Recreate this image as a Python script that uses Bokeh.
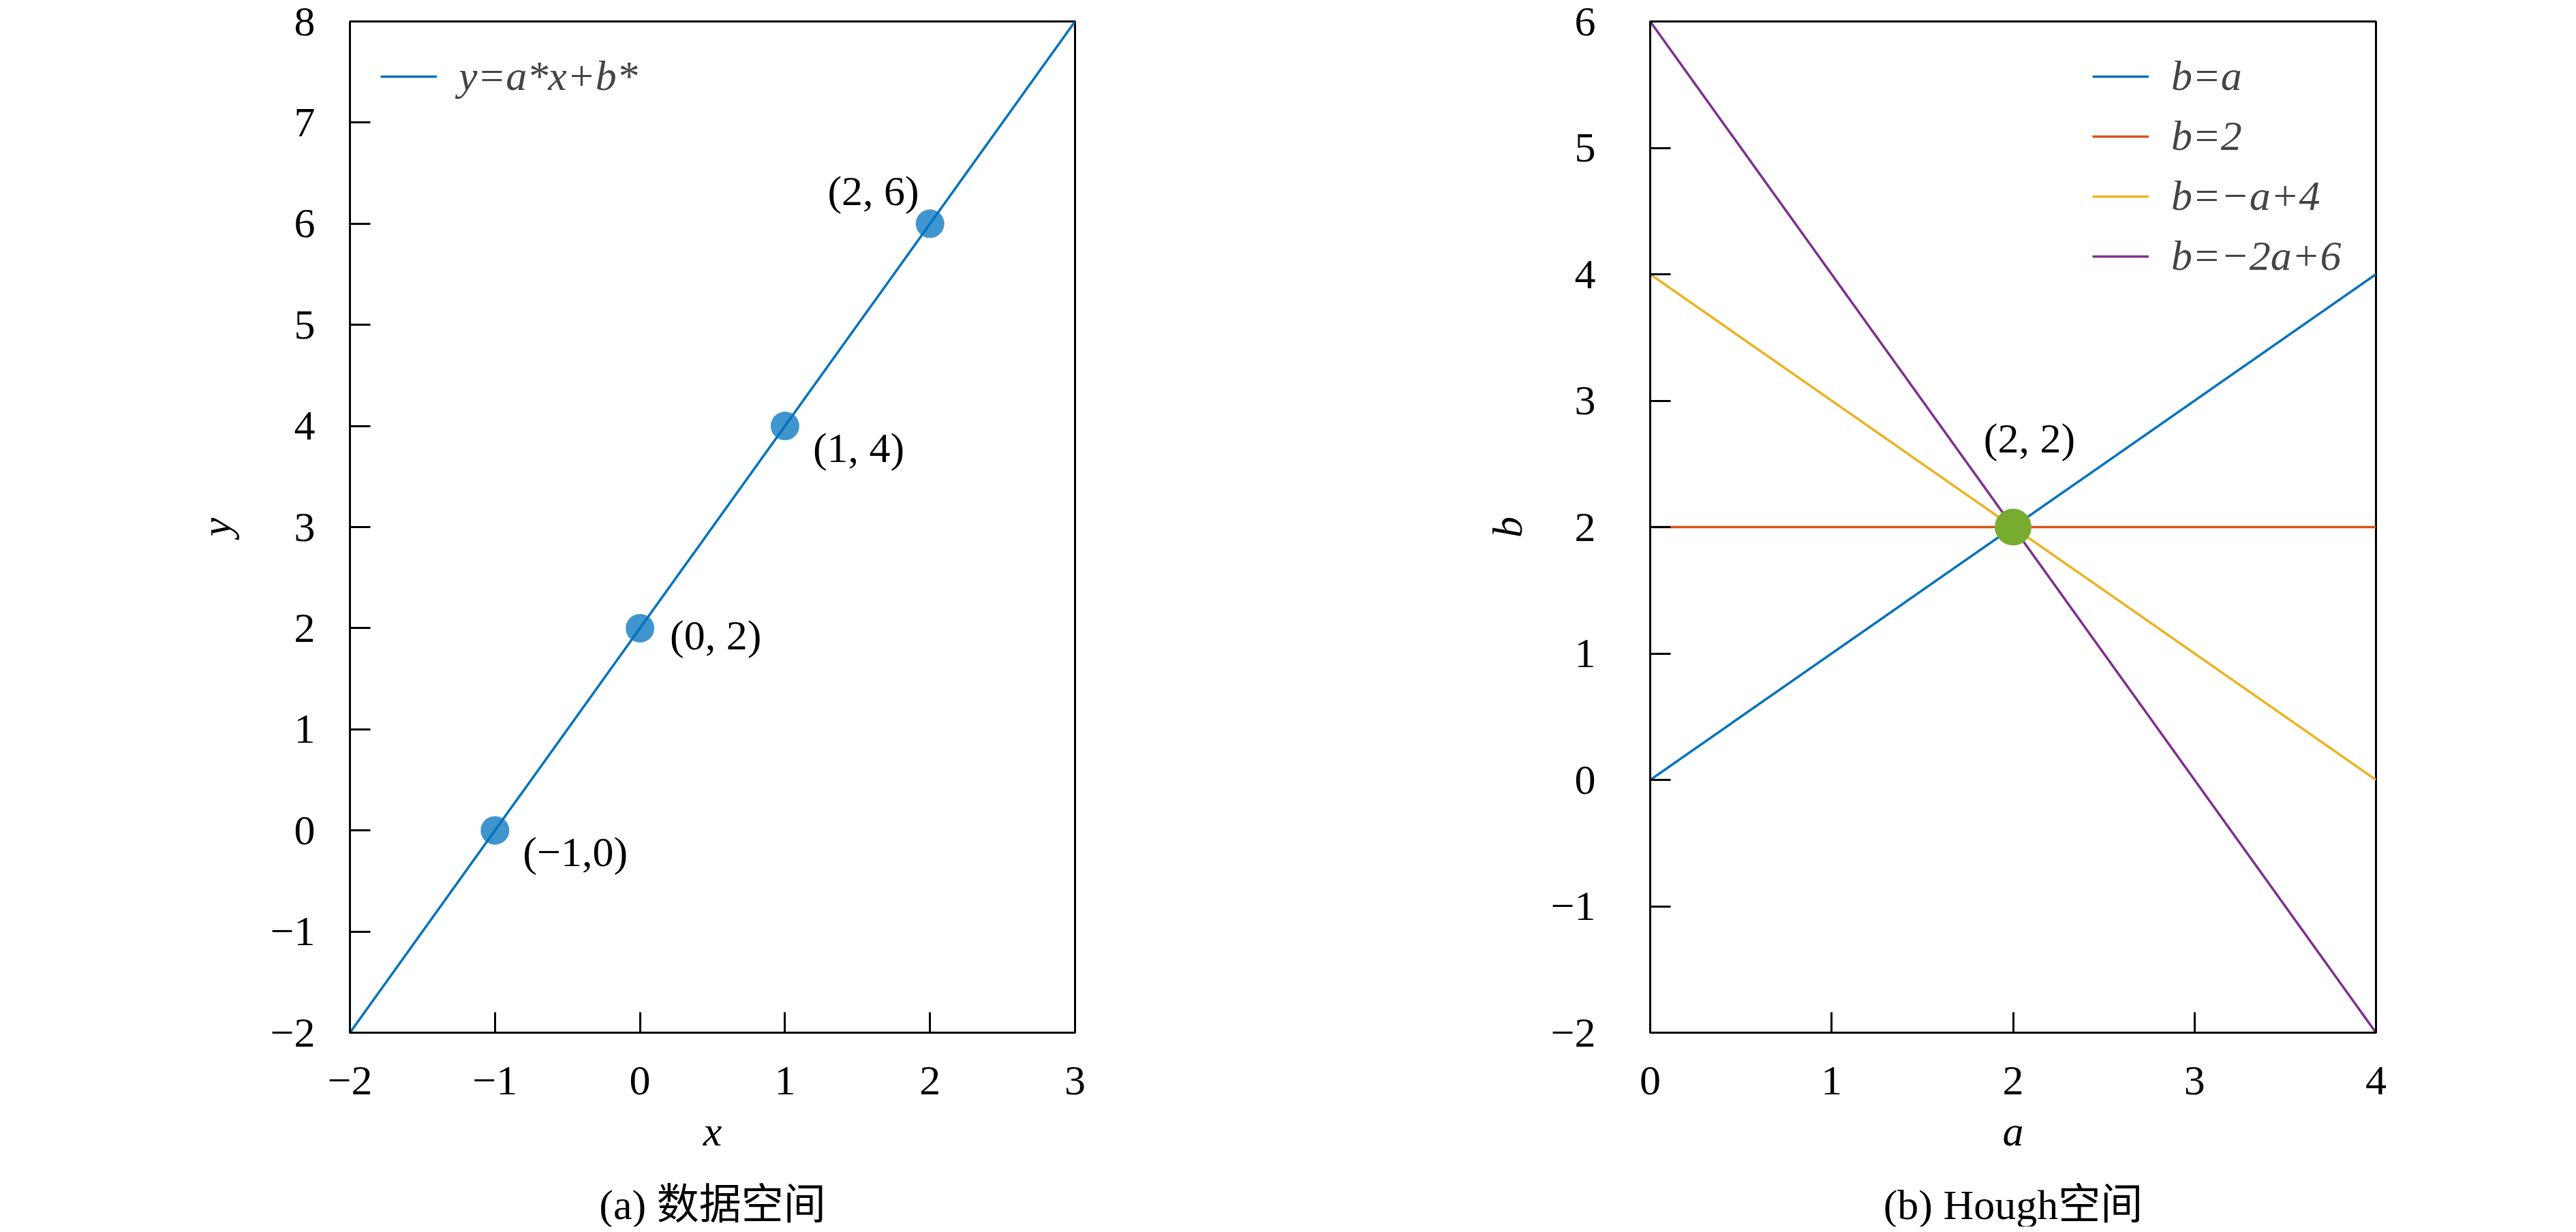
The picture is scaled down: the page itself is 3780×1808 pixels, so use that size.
from bokeh.plotting import figure
from bokeh.models import Legend, LegendItem, FixedTicker, ColumnDataSource, Range1d
from bokeh.layouts import row, column
from bokeh.embed import file_html
from bokeh.resources import INLINE
from bokeh.core.properties import value

# ---------------- data ----------------
# (a) data space
line_x = [-2, 3]
line_y = [-2, 8]
line_name = "y=a*x+b*"
pts_x = [-1, 0, 1, 2]
pts_y = [0, 2, 4, 6]
pts_labels = ["(−1,0)", "(0, 2)", "(1, 4)", "(2, 6)"]
left_xticks = [-2, -1, 0, 1, 2, 3]
left_xlabels = ["−2", "−1", "0", "1", "2", "3"]
left_yticks = [-2, -1, 0, 1, 2, 3, 4, 5, 6, 7, 8]
left_ylabels = ["−2", "−1", "0", "1", "2", "3", "4", "5", "6", "7", "8"]

# (b) Hough space
hough_a = [0, 4]
hough_b1 = [0, 4]      # b = a
hough_b2 = [2, 2]      # b = 2
hough_b3 = [4, 0]      # b = -a + 4
hough_b4 = [6, -2]     # b = -2a + 6
hough_names = ["b=a", "b=2", "b=−a+4", "b=−2a+6"]
cross_a = [2]
cross_b = [2]
cross_label = ["(2, 2)"]
right_xticks = [0, 1, 2, 3, 4]
right_xlabels = ["0", "1", "2", "3", "4"]
right_yticks = [-2, -1, 0, 1, 2, 3, 4, 5, 6]
right_ylabels = ["−2", "−1", "0", "1", "2", "3", "4", "5", "6"]

captions = ["(a) 数据空间", "(b) Hough空间"]

# ---------------- style / layout ----------------
FONT = "Liberation Serif, Noto Sans CJK SC"
FS = "62px"
COLORS = ["#0072BD", "#D95319", "#EDB120", "#7E2F8E"]
W1, W2 = 1908, 1864
FRAME_W1, FRAME_W2, FRAME_H = 1064, 1065, 1484
LEFT, TOP, BOTTOM = 513, 31, 200
CAP_H = 1800 - (TOP + FRAME_H + BOTTOM)


def style_fig(p, xticks, xlabels, yticks, ylabels, ystandoff, ylabel_standoff):
    p.grid.visible = False
    p.outline_line_color = "black"
    p.outline_line_width = 3
    p.outline_line_alpha = 1
    for ax in (p.xaxis[0], p.yaxis[0]):
        ax.axis_line_width = 3
        ax.major_tick_in = 30
        ax.major_tick_out = 0
        ax.major_tick_line_width = 3
        ax.minor_tick_in = 0
        ax.minor_tick_out = 0
        ax.major_label_text_font = FONT
        ax.major_label_text_font_size = FS
        ax.major_label_text_color = "black"
        ax.axis_label_text_font = FONT
        ax.axis_label_text_font_size = FS
        ax.axis_label_text_font_style = "italic"
        ax.axis_label_text_color = "black"
    p.xaxis[0].ticker = FixedTicker(ticks=xticks)
    p.xaxis[0].major_label_overrides = dict(zip(xticks, xlabels))
    p.yaxis[0].ticker = FixedTicker(ticks=yticks)
    p.yaxis[0].major_label_overrides = dict(zip(yticks, ylabels))
    p.xaxis[0].major_label_standoff = 50
    p.xaxis[0].axis_label_standoff = 17
    p.yaxis[0].major_label_standoff = ystandoff
    p.yaxis[0].axis_label_standoff = ylabel_standoff


def caption_fig(width, frame_w, text):
    c = figure(width=width, height=CAP_H, output_backend="svg", toolbar_location=None,
               x_range=Range1d(0, width), y_range=Range1d(0, CAP_H),
               x_axis_type=None, y_axis_type=None,
               min_border_left=0, min_border_right=0, min_border_top=0, min_border_bottom=0)
    c.outline_line_color = None
    c.grid.visible = False
    c.text(x=[LEFT + frame_w / 2], y=[CAP_H - (1767 - (TOP + FRAME_H + BOTTOM))], text=[text],
           text_font=value(FONT), text_font_size=FS, text_align="center",
           text_baseline="middle", text_color="black")
    return c


# ---------------- (a) ----------------
p1 = figure(frame_width=FRAME_W1, frame_height=FRAME_H, output_backend="svg", toolbar_location=None,
            x_range=Range1d(-2, 3), y_range=Range1d(-2, 8),
            min_border_left=LEFT, min_border_right=W1 - LEFT - FRAME_W1,
            min_border_top=TOP, min_border_bottom=BOTTOM,
            x_axis_label="x", y_axis_label="y")
style_fig(p1, left_xticks, left_xlabels, left_yticks, left_ylabels, 51, 43)

r_line = p1.line(line_x, line_y, line_color=COLORS[0], line_width=3.5)
p1.scatter(pts_x, pts_y, size=42, fill_color=COLORS[0], fill_alpha=0.75, line_color=None)

src_l = ColumnDataSource(dict(x=pts_x[:3], y=pts_y[:3], t=pts_labels[:3],
                              xo=[41, 44, 41], yo=[31, 10, 32]))
p1.text(x="x", y="y", text="t", x_offset="xo", y_offset="yo", source=src_l,
        text_font=value(FONT), text_font_size=FS, text_align="left",
        text_baseline="middle", text_color="black")
src_r = ColumnDataSource(dict(x=pts_x[3:], y=pts_y[3:], t=pts_labels[3:], xo=[-16], yo=[-48]))
p1.text(x="x", y="y", text="t", x_offset="xo", y_offset="yo", source=src_r,
        text_font=value(FONT), text_font_size=FS, text_align="right",
        text_baseline="middle", text_color="black")

leg1 = Legend(items=[LegendItem(label=line_name, renderers=[r_line])],
              location="top_left", margin=45, padding=10, spacing=17,
              glyph_width=83, glyph_height=20, label_standoff=32,
              label_text_font=FONT, label_text_font_size=FS, label_text_font_style="italic",
              border_line_color=None, background_fill_alpha=0)
p1.add_layout(leg1)

# ---------------- (b) ----------------
p2 = figure(frame_width=FRAME_W2, frame_height=FRAME_H, output_backend="svg", toolbar_location=None,
            x_range=Range1d(0, 4), y_range=Range1d(-2, 6),
            min_border_left=LEFT, min_border_right=W2 - LEFT - FRAME_W2,
            min_border_top=TOP, min_border_bottom=BOTTOM,
            x_axis_label="a", y_axis_label="b")
style_fig(p2, right_xticks, right_xlabels, right_yticks, right_ylabels, 80, 27)

renderers = []
for ys, c in zip([hough_b1, hough_b2, hough_b3, hough_b4], COLORS):
    renderers.append(p2.line(hough_a, ys, line_color=c, line_width=3.5))
p2.scatter(cross_a, cross_b, size=54, fill_color="#77AC30", line_color=None)
p2.text(x=cross_a, y=cross_b, text=cross_label, x_offset=24, y_offset=-131,
        text_font=value(FONT), text_font_size=FS, text_align="center",
        text_baseline="middle", text_color="black")

leg2 = Legend(items=[LegendItem(label=n, renderers=[r]) for n, r in zip(hough_names, renderers)],
              location="top_right", margin=45, padding=10, spacing=17,
              glyph_width=83, glyph_height=20, label_standoff=33, label_width=255,
              label_text_font=FONT, label_text_font_size=FS, label_text_font_style="italic",
              border_line_color=None, background_fill_alpha=0)
p2.add_layout(leg2)

c1 = caption_fig(W1, FRAME_W1, captions[0])
c2 = caption_fig(W2, FRAME_W2, captions[1])

layout = column(row(p1, p2), row(c1, c2))
open("out.html", "w").write(file_html(layout, INLINE))
